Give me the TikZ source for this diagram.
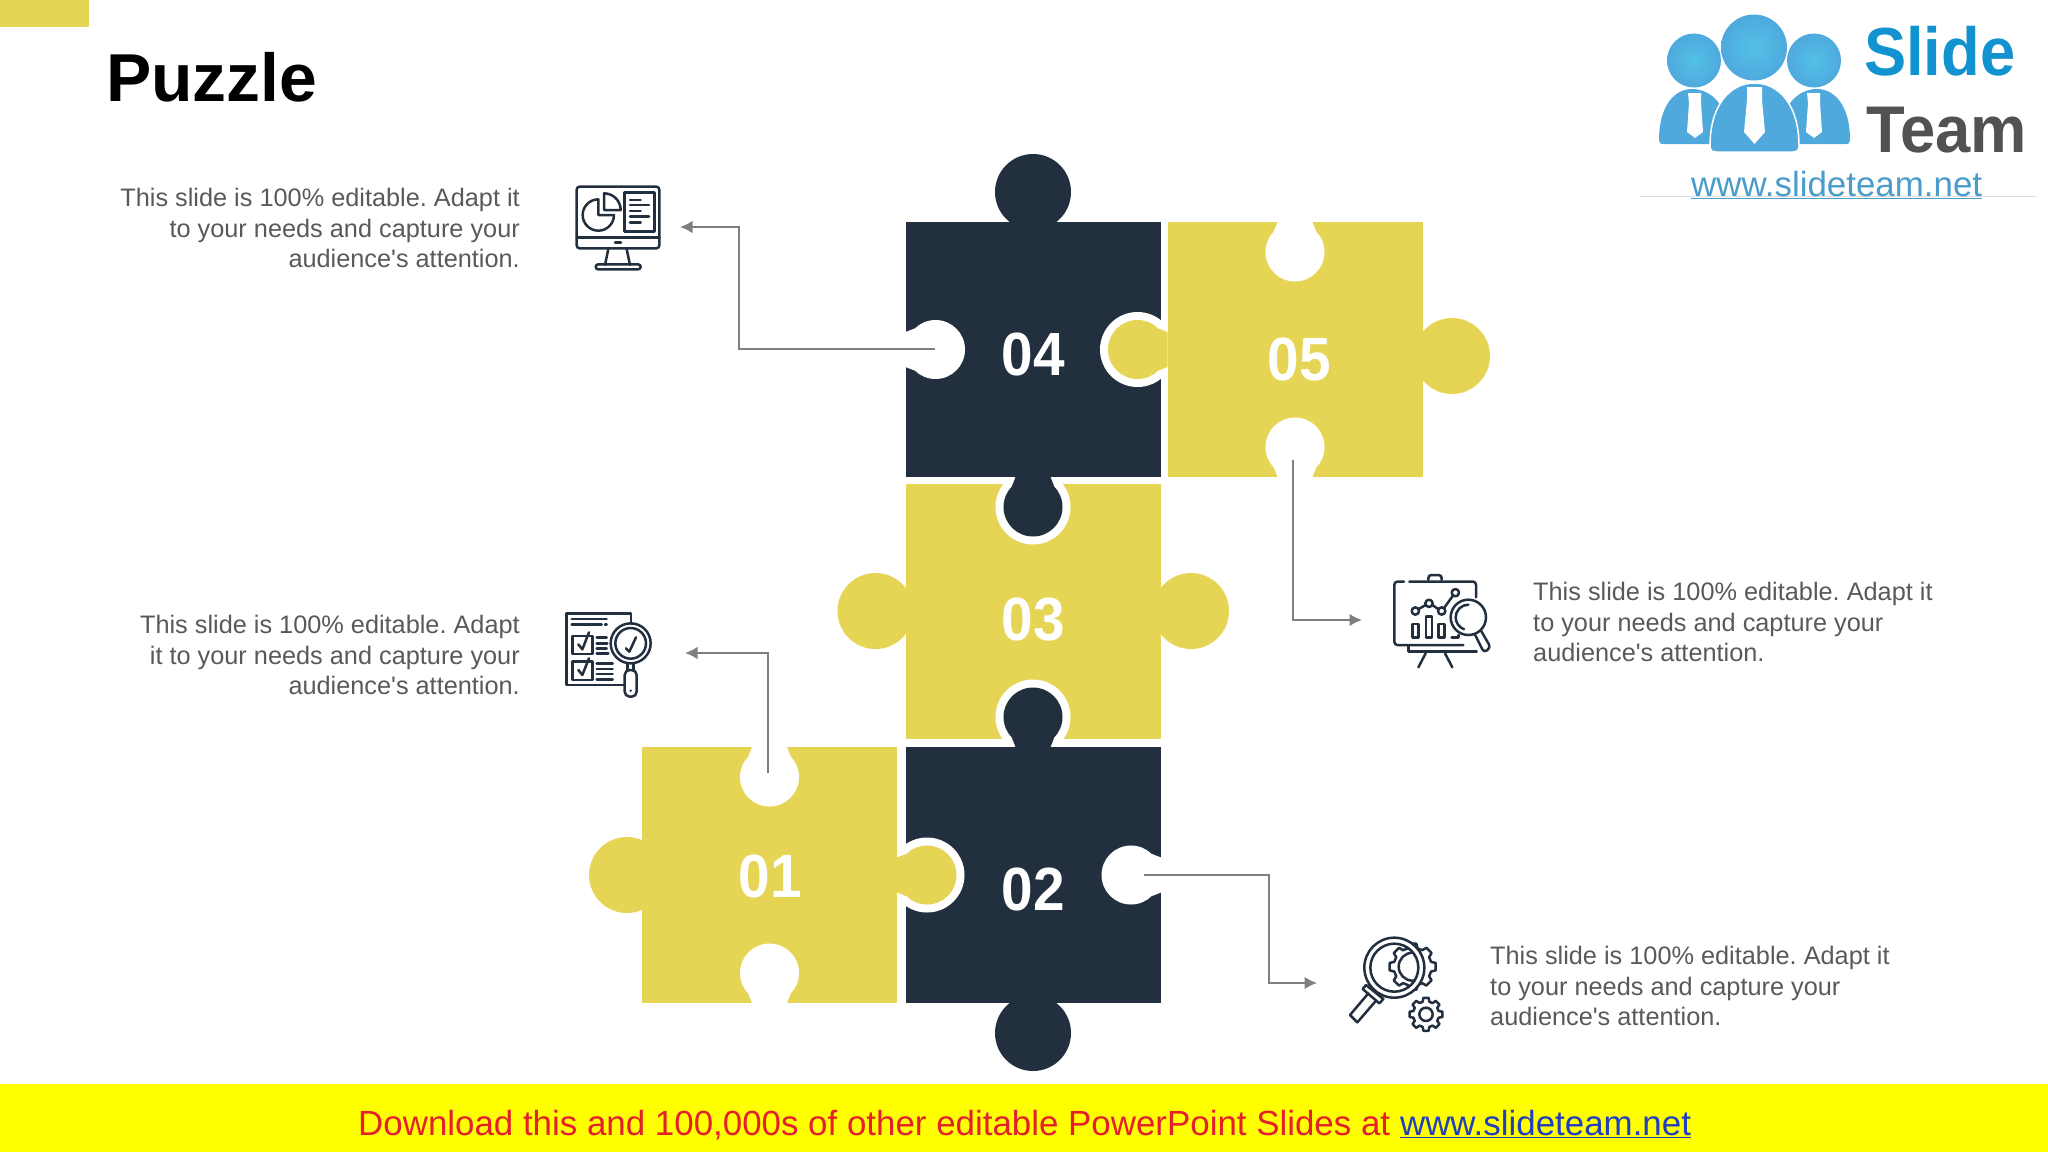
\documentclass[tikz,border=0pt]{standalone}
\usepackage{fontspec}
\setmainfont{Liberation Sans}
\usetikzlibrary{arrows.meta,calc}
\definecolor{DarkClr}{HTML}{222F3E}
\definecolor{GoldClr}{HTML}{E6D455}
\definecolor{LinkClr}{HTML}{7F7F7F}
\definecolor{TextClr}{HTML}{595959}
\definecolor{LogoClr}{HTML}{4FA9DD}
\definecolor{LogoTextClr}{HTML}{1292CF}
\definecolor{UrlClr}{HTML}{4A9CCB}
\definecolor{BannerYellow}{HTML}{FFFF00}
\definecolor{BannerRed}{HTML}{E4202C}
\definecolor{BannerBlue}{HTML}{1F3FBF}
\tikzset{
  numlabel/.style={text=white,inner sep=0pt,xscale=.93,transform shape,font=\fontsize{61}{61}\selectfont\bfseries},
  sidetext/.style={text=TextClr,inner sep=0pt,font=\fontsize{25.3}{30.7}\selectfont\frenchspacing},
  linkline/.style={draw=LinkClr,line width=1.6pt,-{Latex[length=12.5pt,width=12.5pt]}},
  iconline/.style={draw=DarkClr,line width=2.5pt,line cap=round,line join=round},
  logotext/.style={inner sep=0pt,anchor=base west,transform shape,font=\fontsize{#1}{#1}\selectfont\bfseries}
}
% tabs: edge point, direction, colour
\newcommand{\BigTab}[3]{\fill[#3,shift={(#1)},rotate=#2] (30,0) circle (38);}
\newcommand{\SmallTab}[3]{%
  \fill[#3,shift={(#1)},rotate=#2] (0,-17.5) -- (9,-21) -- (9,21) -- (0,17.5) -- cycle;
  \fill[#3,shift={(#1)},rotate=#2] (30,0) circle (29.5);}
\newcommand{\TabRing}[2]{\fill[white,shift={(#1)},rotate=#2] (30,0) circle (37.5);}
\newcommand{\GearPath}[4]{([shift={(#1)}]-15:#3)
  \foreach \a in {0,#4,...,359} {
    -- ([shift={(#1)}]\a-15:#3) -- ([shift={(#1)}]\a-9:#2) -- ([shift={(#1)}]\a+9:#2) -- ([shift={(#1)}]\a+15:#3)
  } -- cycle}

\begin{document}
\begin{tikzpicture}[x=1pt,y=-1pt]
\useasboundingbox (0,0) rectangle (2048,1152);

\fill[GoldClr] (0,0) rectangle (89,27);
\node[inner sep=0pt,anchor=base west,font=\fontsize{67.8}{67.8}\selectfont\bfseries] (title) at (106,101) {Puzzle};

% puzzle pieces
\fill[GoldClr] (905.5,484) rectangle (1161,739);
\TabRing{1033,477}{270}
\TabRing{1033,747}{90}
\fill[DarkClr] (905.5,747) rectangle (1161,1003);
\TabRing{897,875}{0}
\fill[GoldClr] (641.5,747) rectangle (897,1003);
\fill[DarkClr] (905.5,222) rectangle (1161,477);
\TabRing{1167.5,349.5}{180}
\fill[GoldClr] (1167.5,222) rectangle (1422.5,477);

\BigTab{1033,222}{90}{DarkClr}
\BigTab{1422,356}{0}{GoldClr}
\BigTab{905.5,611}{180}{GoldClr}
\BigTab{1161,611}{0}{GoldClr}
\fill[GoldClr] (627,875) circle (38);
\BigTab{1033,1003}{270}{DarkClr}

\SmallTab{1167.5,349.5}{180}{GoldClr}
\SmallTab{1033,477}{270}{DarkClr}
\SmallTab{1033,747}{90}{DarkClr}
\SmallTab{897,875}{0}{GoldClr}

\SmallTab{905.5,349.5}{0}{white}
\SmallTab{1295,222}{270}{white}
\SmallTab{1295,477}{90}{white}
\SmallTab{769.5,747}{270}{white}
\SmallTab{769.5,1003}{90}{white}
\SmallTab{1161,875}{180}{white}

\node[numlabel] (numA) at (770,876) {01};
\node[numlabel] (numB) at (1033,889) {02};
\node[numlabel] (numC) at (1033,620) {03};
\node[numlabel] (numD) at (1033,354) {04};
\node[numlabel] (numE) at (1299,359) {05};

% connectors
\coordinate (startD) at (935,349);
\coordinate (elbowD) at (739,227);
\coordinate (tipD) at (680,227);
\draw[linkline] (startD) -| (elbowD) -- (tipD);
\coordinate (startE) at (1293,460);
\coordinate (elbowE) at (1293,620);
\coordinate (tipE) at (1362,620);
\draw[linkline] (startE) -- (elbowE) -- (tipE);
\coordinate (startA) at (768,773);
\coordinate (elbowA) at (768,653);
\coordinate (tipA) at (685,653);
\draw[linkline] (startA) -- (elbowA) -- (tipA);
\coordinate (startB) at (1144,875);
\coordinate (elbowB) at (1269,983);
\coordinate (tipB) at (1317,983);
\draw[linkline] (startB) -| (elbowB) -- (tipB);

% side texts
\node[sidetext,anchor=east,align=right] (textD) at (520,228) {This slide is 100\% editable. Adapt it\\to your needs and capture your\\audience\textquotesingle s attention.};
\node[sidetext,anchor=east,align=right] (textA) at (520,655) {This slide is 100\% editable. Adapt\\it to your needs and capture your\\audience\textquotesingle s attention.};
\node[sidetext,anchor=west,align=left] (textE) at (1533,622) {This slide is 100\% editable. Adapt it\\to your needs and capture your\\audience\textquotesingle s attention.};
\node[sidetext,anchor=west,align=left] (textB) at (1490,986) {This slide is 100\% editable. Adapt it\\to your needs and capture your\\audience\textquotesingle s attention.};

% monitor icon
\begin{scope}[shift={(550,170)},scale=1/3]
\draw[iconline,rounded corners=3pt] (80,50) rectangle (328,235);
\draw[iconline] (80,203) -- (328,203);
\draw[iconline] (195,217) -- (213,217);
\draw[iconline] (175,237) -- (165,285) (230,237) -- (240,285);
\draw[iconline,rounded corners=2.5pt] (137,283) rectangle (272,298);
\draw[iconline] (145,135) -- (145,88) arc[start angle=-90,end angle=-360,radius=47] -- cycle;
\draw[iconline] (162,120) -- (162,70) arc[start angle=-90,end angle=0,radius=50] -- cycle;
\draw[iconline] (224,67) rectangle (313,185);
\foreach \ya/\xa in {90/272,105/297,123/272,140/297,157/272}
  \draw[iconline] (240,\ya) -- (\xa,\ya);
\end{scope}

% checklist icon
\begin{scope}[shift={(550,600)},scale=1/3]
\draw[iconline] (243,72) -- (243,40) -- (50,40) -- (50,255) -- (222,255);
\draw[iconline] (65,57) -- (170,57) (65,73) -- (155,73) (165,73) -- (170,73);
\draw[iconline] (68,108) rectangle (128,162);
\draw[iconline] (68,185) rectangle (128,240);
\draw[iconline] (85,133) -- (97,148) -- (117,97);
\draw[iconline] (85,210) -- (97,225) -- (117,175);
\foreach \ya/\xa in {112/170,130/172,145/170,160/175,190/188,207/188,222/188,238/188}
  \draw[iconline] (140,\ya) -- (\xa,\ya);
\draw[iconline] (242,130) circle (60);
\draw[iconline] (242,130) circle (46);
\draw[iconline] (228,145) -- (238,155) -- (258,112);
\draw[iconline] (232,190) -- (232,210) (250,190) -- (250,210);
\draw[iconline,rounded corners=5pt] (224,210) rectangle (260,290);
\fill[DarkClr] (242,272) circle (4);
\end{scope}

% board icon
\begin{scope}[shift={(1380,560)},scale=1/3]
\draw[iconline,rounded corners=3pt] (72,65) -- (43,65) -- (43,255) -- (250,255);
\draw[iconline,rounded corners=3pt] (88,65) -- (288,65) -- (288,112);
\draw[iconline,rounded corners=3pt] (145,60) -- (145,45) -- (185,45) -- (185,60);
\draw[iconline] (85,258) -- (85,275) -- (290,275);
\draw[iconline] (137,280) -- (115,322) (195,280) -- (217,322);
\draw[iconline] (106,153) circle (11) (147,130) circle (11) (185,153) circle (11) (226,98) circle (11);
\draw[iconline] (116,147) -- (137,135) (157,135) -- (176,148) (192,144) -- (219,107);
\draw[iconline] (98,192) rectangle (115,232);
\draw[iconline] (138,170) rectangle (156,232);
\draw[iconline] (176,192) rectangle (194,232);
\draw[iconline] (215,232) -- (235,232) -- (235,225);
\draw[iconline,fill=white] (265,172) circle (53);
\draw[iconline] (265,134) arc[start angle=-90,end angle=-250,radius=38];
\draw[iconline,rounded corners=3.5pt] (285,224) -- (312,278) -- (332,262) -- (303,212);
\end{scope}

% gear icon
\begin{scope}[shift={(1340,925)},scale=1/3]
\draw[iconline] \GearPath{218,125}{70}{57}{45};
\draw[iconline,fill=white] (163,128) circle (90);
\draw[iconline] (163,128) circle (72);
\begin{scope}
\clip (163,128) circle (72);
\draw[iconline] \GearPath{218,125}{70}{57}{45};
\draw[iconline] (218,125) circle (42);
\end{scope}
\draw[iconline] (78,180) -- (130,222) -- (118,235) -- (68,192) -- cycle;
\draw[iconline] (85,205) -- (30,270) -- (52,292) -- (107,228);
\draw[iconline] \GearPath{258,268}{50}{39}{45};
\draw[iconline] (258,268) circle (20);
\end{scope}

% logo
\draw[white!75!gray,line width=1pt] (1640,196) -- (2037,196);
\fill[LogoClr] (1659,140) .. controls (1659,105) and (1675,89) .. (1692,89) .. controls (1708,89) and (1720,100) .. (1725,115) -- (1725,144) -- (1664,144) .. controls (1660,144) and (1659,143) .. (1659,140) -- cycle;
\fill[LogoClr] (1850,140) .. controls (1850,105) and (1834,89) .. (1817,89) .. controls (1801,89) and (1789,100) .. (1784,115) -- (1784,144) -- (1845,144) .. controls (1849,144) and (1850,143) .. (1850,140) -- cycle;
\draw[white,line width=1.5pt,fill=LogoClr] (1710,146) .. controls (1710,105) and (1730,83) .. (1754.5,83) .. controls (1779,83) and (1799,105) .. (1799,146) .. controls (1799,150) and (1797,152) .. (1793,152) -- (1716,152) .. controls (1712,152) and (1710,150) .. (1710,146) -- cycle;
\shade[inner color=LogoClr!80!cyan!90!white,outer color=LogoClr] (1694,60.5) circle (27);
\shade[inner color=LogoClr!80!cyan!90!white,outer color=LogoClr] (1814,60.5) circle (27);
\shade[inner color=LogoClr!80!cyan!90!white,outer color=LogoClr] (1754,47.5) circle (33);
\fill[white] (1688,93) -- (1701,93) -- (1701,103) -- (1703,132) -- (1695,138) -- (1687,132) -- (1689,103) -- cycle;
\fill[white] (1807,93) -- (1820,93) -- (1820,103) -- (1822,132) -- (1814,138) -- (1806,132) -- (1808,103) -- cycle;
\fill[white] (1747,87) -- (1762,87) -- (1762,100) -- (1765,132) -- (1754.5,144) -- (1744,132) -- (1747,100) -- cycle;
\node[logotext=68,text=LogoTextClr,xscale=.93] (logoSlide) at (1864,75) {Slide};
\node[logotext=66,text=black!68,xscale=.96] (logoTeam) at (1866,152) {Team};
\node[inner sep=0pt,anchor=base west,text=UrlClr,font=\fontsize{34.9}{34.9}\selectfont] (logoUrl) at (1691,196) {\underline{www.slideteam.net}};

% banner
\fill[BannerYellow] (0,1084) rectangle (2048,1152);
\node[inner sep=0pt,anchor=base west,text=BannerRed,font=\fontsize{34.9}{34.9}\selectfont\frenchspacing] (banner) at (358,1135) {Download this and 100,000s of other editable PowerPoint Slides at \textcolor{BannerBlue}{\underline{www.slideteam.net}}};
\end{tikzpicture}
\end{document}
